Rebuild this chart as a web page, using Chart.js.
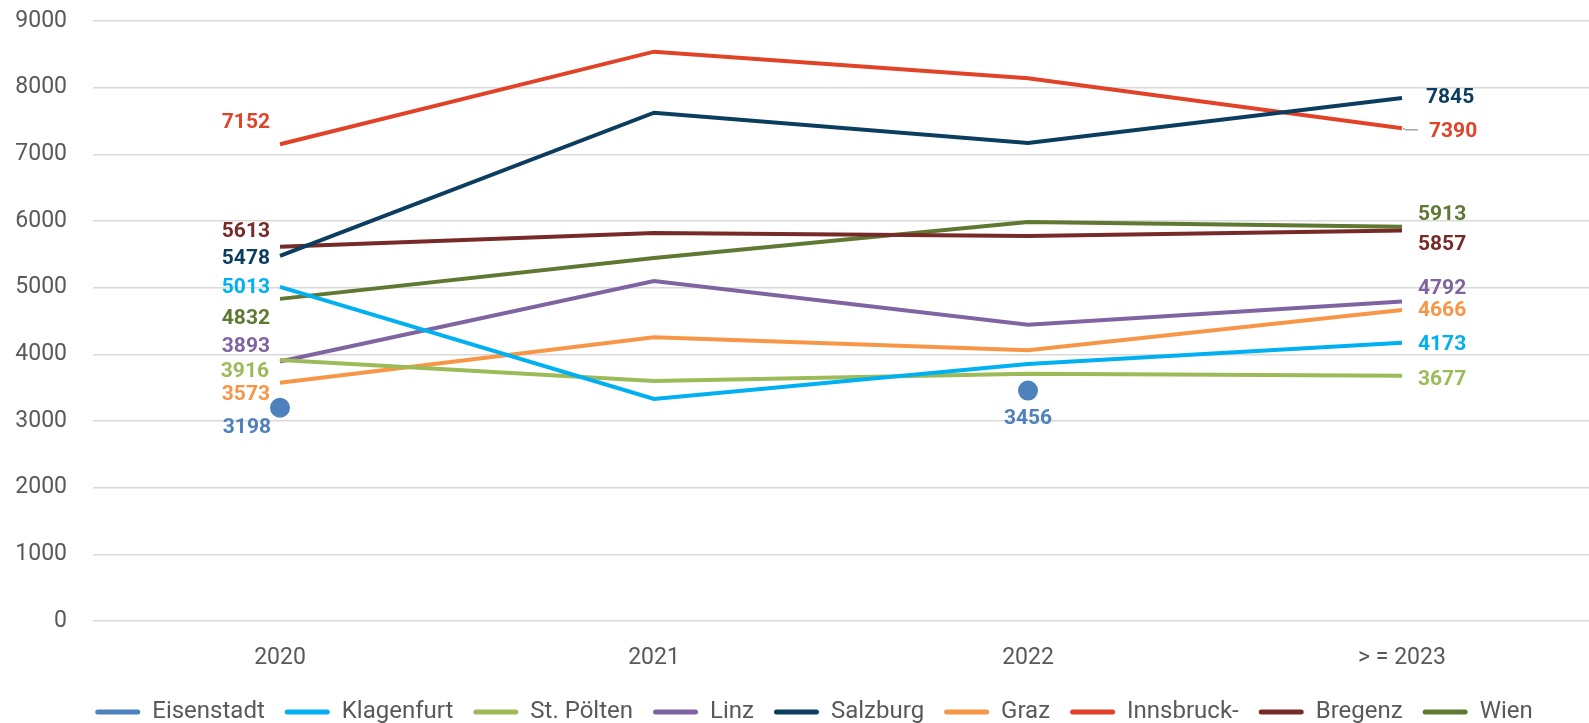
<!DOCTYPE html>
<html>
<head>
<meta charset="utf-8">
<script src="https://cdn.jsdelivr.net/npm/chart.js@4.4.1/dist/chart.umd.min.js"></script>
<style>
  html, body { margin: 0; padding: 0; background: #fff; }
  #wrap { width: 1589px; height: 723px; }
</style>
</head>
<body>
<div id="wrap"><canvas id="chart" width="1589" height="723"></canvas></div>
<script>
// Kategorien und Werte je Stadt
const years = ['2020', '2021', '2022', '> = 2023'];
const yTicks = [0, 1000, 2000, 3000, 4000, 5000, 6000, 7000, 8000, 9000];

const eisenstadt = [3198, null, 3456, null];
const klagenfurt = [5013, 3330, 3855, 4173];
const stPoelten  = [3916, 3600, 3710, 3677];
const linz       = [3893, 5100, 4445, 4792];
const salzburg   = [5478, 7625, 7170, 7845];
const graz       = [3573, 4255, 4060, 4666];
const innsbruck  = [7152, 8540, 8140, 7390];
const bregenz    = [5613, 5820, 5775, 5857];
const wien       = [4832, 5445, 5985, 5913];

// Beschriftungen: welche Punkte, Versatz in px [dx, dy, Ausrichtung]
const labelPos = {
  'Eisenstadt':  { 0: [-9, 20, 'right'], 2: [0, 28, 'center'] },
  'Klagenfurt':  { 0: [-10, 1, 'right'], 3: [16, 1.5, 'left'] },
  'St. Pölten':  { 0: [-11, 12, 'right'], 3: [16, 3.5, 'left'] },
  'Linz':        { 0: [-10, -14.5, 'right'], 3: [16, -12.5, 'left'] },
  'Salzburg':    { 0: [-10, 2.5, 'right'], 3: [24, -0.5, 'left'] },
  'Graz':        { 0: [-10, 12, 'right'], 3: [16, 1, 'left'] },
  'Innsbruck-':  { 0: [-10, -21, 'right'], 3: [27, 3.5, 'left', true] },
  'Bregenz':     { 0: [-10, -15, 'right'], 3: [16, 14.5, 'left'] },
  'Wien':        { 0: [-10, 19.5, 'right'], 3: [16, -12.5, 'left'] }
};

const FONT = 'Roboto, "Noto Sans", sans-serif';

function lineSet(label, data, color) {
  return {
    label: label,
    data: data,
    borderColor: color,
    backgroundColor: color,
    borderWidth: 4,
    pointRadius: 0,
    tension: 0,
    spanGaps: true
  };
}

const datasets = [
  {
    label: 'Eisenstadt',
    data: eisenstadt,
    borderColor: '#4f81bd',
    backgroundColor: '#4f81bd',
    borderWidth: 4,
    showLine: false,
    pointRadius: 10,
    pointBorderWidth: 0
  },
  lineSet('Klagenfurt', klagenfurt, '#00b0f0'),
  lineSet('St. Pölten', stPoelten, '#9bbb59'),
  lineSet('Linz', linz, '#8064a2'),
  lineSet('Salzburg', salzburg, '#0b3d5e'),
  lineSet('Graz', graz, '#f79646'),
  lineSet('Innsbruck-', innsbruck, '#e04327'),
  lineSet('Bregenz', bregenz, '#772b29'),
  lineSet('Wien', wien, '#5f7832')
];

// Datenbeschriftungen zeichnen
const valueLabels = {
  id: 'valueLabels',
  afterDatasetsDraw(chart) {
    const ctx = chart.ctx;
    ctx.save();
    ctx.font = 'bold 21px ' + FONT;
    ctx.textBaseline = 'middle';
    chart.data.datasets.forEach((ds, i) => {
      const pos = labelPos[ds.label];
      if (!pos) return;
      const meta = chart.getDatasetMeta(i);
      Object.keys(pos).forEach(k => {
        const el = meta.data[k];
        const v = ds.data[k];
        if (!el || v == null) return;
        const [dx, dy, align, leader] = pos[k];
        if (leader) {
          ctx.strokeStyle = '#a6a6a6';
          ctx.lineWidth = 1.5;
          ctx.beginPath();
          ctx.moveTo(el.x + 1, el.y);
          ctx.lineTo(el.x + 4, el.y + 1.5);
          ctx.lineTo(el.x + 16, el.y + 1.5);
          ctx.stroke();
        }
        ctx.fillStyle = ds.borderColor;
        ctx.textAlign = align;
        ctx.fillText(String(v), el.x + dx, el.y + dy);
      });
    });
    ctx.restore();
  }
};

// Legende etwas nach rechts rücken (wie im Original)
const legendShift = {
  id: 'legendShift',
  afterLayout(chart) {
    if (chart.legend) {
      chart.legend.left += 18;
      chart.legend.right += 18;
    }
  }
};

new Chart(document.getElementById('chart'), {
  type: 'line',
  data: { labels: years, datasets: datasets },
  options: {
    responsive: false,
    animation: false,
    devicePixelRatio: 1,
    layout: { autoPadding: false, padding: { top: 21, right: -3, left: 0, bottom: 0 } },
    scales: {
      x: {
        offset: true,
        grid: { display: false },
        border: { display: false },
        ticks: { color: '#595959', font: { family: FONT, size: 23 }, padding: 15 },
        afterFit(scale) {
          scale.height = 59;
          scale.paddingLeft = 0;
          scale.paddingRight = 0;
        }
      },
      y: {
        min: 0,
        max: 9000,
        afterBuildTicks(scale) { scale.ticks = yTicks.map(v => ({ value: v })); },
        grid: { color: '#d9d9d9', lineWidth: 1.5, drawTicks: false },
        border: { display: false },
        ticks: {
          color: '#595959',
          font: { family: FONT, size: 23 },
          padding: 26,
          callback: v => String(v)
        },
        afterFit(scale) {
          scale.width = 93;
          scale.paddingTop = 0;
          scale.paddingBottom = 0;
        }
      }
    },
    plugins: {
      tooltip: { enabled: false },
      legend: {
        position: 'bottom',
        maxHeight: 43,
        labels: {
          color: '#595959',
          font: { family: FONT, size: 24 },
          boxWidth: 45,
          boxHeight: 5,
          padding: 20,
          useBorderRadius: true,
          borderRadius: 2.5,
          generateLabels(chart) {
            return Chart.defaults.plugins.legend.labels.generateLabels(chart).map(l => {
              l.lineWidth = 0;
              l.strokeStyle = 'rgba(0,0,0,0)';
              return l;
            });
          }
        }
      }
    }
  },
  plugins: [valueLabels, legendShift]
});
</script>
</body>
</html>
